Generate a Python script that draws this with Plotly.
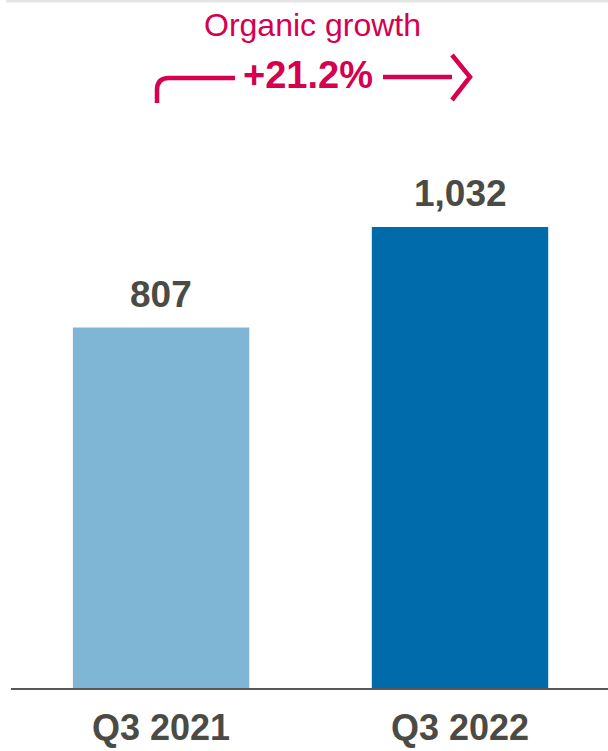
import plotly.graph_objects as go

# Quarterly figures
quarters = ["Q3 2021", "Q3 2022"]
values = [807, 1032]
value_labels = ["807", "1,032"]
bar_colors = ["#80b6d5", "#006bab"]
growth_title = "Organic growth"
growth_label = "+21.2%"

W, H = 608, 751
ML, MB, MT, MR = 11, 63, 0, 0
PLOT_W = W - ML - MR
PLOT_H = H - MT - MB

ACCENT = "#d6004f"
TEXT = "#4b4b45"
FONT = "Liberation Sans, Arial, Helvetica, sans-serif"


def px(x):
    """Pixel x -> paper x."""
    return (x - ML) / PLOT_W


def py(y):
    """Pixel y (from top) -> paper y."""
    return 1 - (y - MT) / PLOT_H


fig = go.Figure()
fig.add_trace(go.Bar(
    x=quarters,
    y=values,
    marker=dict(color=bar_colors, line=dict(width=0)),
    width=0.59,
    hoverinfo="skip",
))

# value labels above each bar
annotations = []
for q, v, lab in zip(quarters, values, value_labels):
    annotations.append(dict(
        x=q, y=v, xref="x", yref="y", text=f"<b>{lab}</b>", showarrow=False,
        yanchor="bottom", yshift=11,
        font=dict(family=FONT, size=37, color=TEXT),
    ))

# growth callout
annotations.append(dict(
    x=px(312), y=py(25), xref="paper", yref="paper", text=growth_title,
    showarrow=False, xanchor="center", yanchor="middle",
    font=dict(family=FONT, size=32, color=ACCENT),
))
annotations.append(dict(
    x=px(308), y=py(75), xref="paper", yref="paper", text=f"<b>{growth_label}</b>",
    showarrow=False, xanchor="center", yanchor="middle",
    font=dict(family=FONT, size=38, color=ACCENT),
))


def pth(points_cmds):
    out = []
    for cmd, pts in points_cmds:
        coords = " ".join(f"{px(a):.5f},{py(b):.5f}" for a, b in pts)
        out.append(f"{cmd} {coords}")
    return " ".join(out)


shapes = [
    # thin rule along the top edge
    dict(type="line", xref="paper", yref="paper",
         x0=px(6), x1=px(608), y0=py(1), y1=py(1),
         line=dict(color="#e4e4e4", width=3)),
    # left hook of the growth arrow
    dict(type="path", xref="paper", yref="paper",
         path=pth([("M", [(157, 103)]), ("L", [(157, 90)]),
                   ("Q", [(157, 78), (169, 78)]), ("L", [(235, 78)])]),
         line=dict(color=ACCENT, width=4.5)),
    # right shaft
    dict(type="line", xref="paper", yref="paper",
         x0=px(383), x1=px(452), y0=py(77), y1=py(77),
         line=dict(color=ACCENT, width=4.5)),
    # arrow head
    dict(type="path", xref="paper", yref="paper",
         path=pth([("M", [(452, 55)]), ("L", [(470, 77)]), ("L", [(452, 100)])]),
         line=dict(color=ACCENT, width=4.5)),
]

fig.update_layout(
    width=W, height=H,
    margin=dict(l=ML, r=MR, t=MT, b=MB, pad=0, autoexpand=False),
    paper_bgcolor="white", plot_bgcolor="white",
    showlegend=False,
    annotations=annotations,
    shapes=shapes,
    bargap=0.4,
)
fig.update_xaxes(
    type="category", range=[-0.502, 1.495], automargin=False,
    showline=True, linecolor="#58585a", linewidth=2,
    showgrid=False, zeroline=False, ticks="",
    tickfont=dict(family=FONT, size=36, color=TEXT),
    tickprefix="<b>", ticksuffix="</b>",
    ticklabelstandoff=7,
)
fig.update_yaxes(
    range=[0, PLOT_H / 0.4467], visible=False, showgrid=False, zeroline=False,
    automargin=False,
)

fig.write_html("out.html", config={"displayModeBar": False})
